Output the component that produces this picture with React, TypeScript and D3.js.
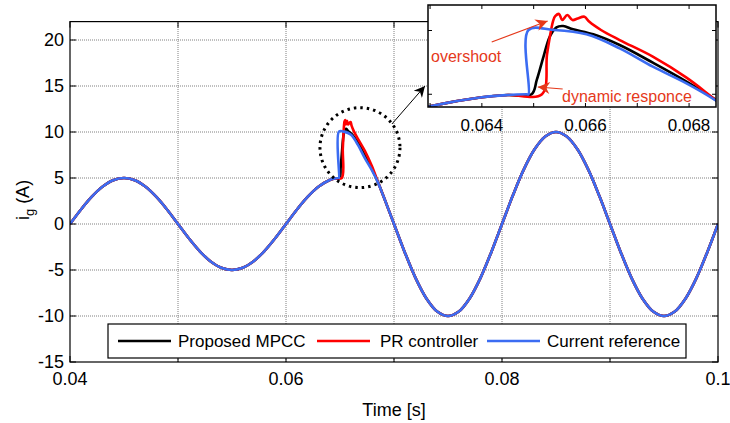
import React from 'react';
import * as d3 from 'd3';

// sampled grid current (A) before the amplitude step, shared by all three traces
const preTime = [0.040, 0.041, 0.042, 0.043, 0.044, 0.045, 0.046, 0.047, 0.048, 0.049,
  0.050, 0.051, 0.052, 0.053, 0.054, 0.055, 0.056, 0.057, 0.058, 0.059,
  0.060, 0.061, 0.062, 0.063, 0.064];
const preCurrent = [0, 1.55, 2.94, 4.05, 4.76, 5.0, 4.76, 4.05, 2.94, 1.55,
  0, -1.55, -2.94, -4.05, -4.76, -5.0, -4.76, -4.05, -2.94, -1.55,
  0, 1.55, 2.94, 4.05, 4.76];

// step region (what the zoomed inset shows), one array per trace
const stepTimeRef = [0.0645, 0.06486, 0.0649, 0.0649, 0.06538, 0.06602, 0.06666, 0.0673, 0.06795, 0.0685];
const stepRef = [4.94, 5.0, 5.0, 10.04, 10.04, 9.7, 8.6, 7.16, 5.85, 4.55];

const stepTimeMpcc = [0.0645, 0.06496, 0.06506, 0.06519, 0.06531, 0.06544, 0.06557, 0.06576, 0.06615, 0.06666, 0.0673, 0.06795, 0.0685];
const stepMpcc = [4.94, 5.0, 6.12, 7.95, 9.51, 10.25, 10.35, 10.09, 9.7, 8.86, 7.48, 6.0, 4.6];

const stepTimePr = [0.0645, 0.06516, 0.06526, 0.06538, 0.06542, 0.06549, 0.06555, 0.06565, 0.06575, 0.06585, 0.06598, 0.06607, 0.0663, 0.06666, 0.0673, 0.06795, 0.0685];
const stepPr = [4.94, 5.0, 8.2, 10.82, 11.14, 11.3, 10.82, 11.22, 10.82, 10.95, 11.08, 10.7, 10.04, 9.25, 7.95, 6.3, 4.6];

// after the step, shared again
const postTime = [0.069, 0.070, 0.071, 0.072, 0.073, 0.074, 0.075, 0.076, 0.077, 0.078,
  0.079, 0.080, 0.081, 0.082, 0.083, 0.084, 0.085, 0.086, 0.087, 0.088,
  0.089, 0.090, 0.091, 0.092, 0.093, 0.094, 0.095, 0.096, 0.097, 0.098,
  0.099, 0.100];
const postCurrent = [3.09, 0, -3.09, -5.88, -8.09, -9.51, -10, -9.51, -8.09, -5.88,
  -3.09, 0, 3.09, 5.88, 8.09, 9.51, 10, 9.51, 8.09, 5.88,
  3.09, 0, -3.09, -5.88, -8.09, -9.51, -10, -9.51, -8.09, -5.88,
  -3.09, 0];

const seriesNames = ['Proposed MPCC', 'PR controller', 'Current reference'];
const seriesColors = ['#000000', '#ff0000', '#3b6cf2'];

const xTicks = [0.04, 0.05, 0.06, 0.07, 0.08, 0.09, 0.1];
const xTickLabels = ['0.04', '', '0.06', '', '0.08', '', '0.1'];
const yTicks = [-15, -10, -5, 0, 5, 10, 15, 20];

const insetTicks = [0.063, 0.064, 0.065, 0.066, 0.067, 0.068];
const insetTickLabels = ['', '0.064', '', '0.066', '', '0.068'];
const insetYTicks = [5, 10];

const font = 'Arial, "Liberation Sans", Helvetica, sans-serif';
const noteColor = '#e5391b';

const join = (a: number[], b: number[]) => a.map((t, i) => [t, b[i]] as [number, number]);

export default function App() {
  const W = 730, H = 423;
  const x = d3.scaleLinear().domain([0.04, 0.1]).range([70, 718]);
  const y = d3.scaleLinear().domain([-15, 22]).range([362, 21.6]);

  const ix = d3.scaleLinear().domain([0.06296, 0.06852]).range([428, 716]);
  const iy = d3.scaleLinear().domain([4, 12]).range([107, 5]);

  const pre = join(preTime, preCurrent);
  const post = join(postTime, postCurrent);
  const series = [
    [...pre, ...join(stepTimeMpcc, stepMpcc), ...post],
    [...pre, ...join(stepTimePr, stepPr), ...post],
    [...pre, ...join(stepTimeRef, stepRef), ...post],
  ];

  const curve = d3.curveCatmullRom.alpha(0.5);
  const line = d3.line<[number, number]>().x(d => x(d[0])).y(d => y(d[1])).curve(curve);
  const iline = d3.line<[number, number]>().x(d => ix(d[0])).y(d => iy(d[1])).curve(curve);

  const [x0, x1] = x.range();
  const [y0, y1] = [y(-15), y(22)];
  const [ix0, ix1] = ix.range();
  const [iy0, iy1] = iy.range();

  // annotation anchors
  const circ = { cx: x(0.06685), cy: y(8.3), r: 40 };
  const zoomArrow = { x1: x(0.06981), y1: y(10.87), x2: x(0.07287), y2: y(15.0) };
  const overArrow = { x1: ix(0.06419), y1: iy(9.1), x2: ix(0.06527), y2: iy(10.75) };
  const dynArrow = { x1: ix(0.06556), y1: iy(5.41), x2: ix(0.06508), y2: iy(5.57) };

  const legend = { x: 108, y: 324, w: 578, h: 34 };
  const legendItems = [
    { lx: 118, tx: 178 },
    { lx: 317, tx: 380 },
    { lx: 487, tx: 547 },
  ];

  return (
    <svg width={W} height={H} style={{ position: 'absolute', left: 0, top: 0, background: '#fff' }} fontFamily={font}>
      <defs>
        <clipPath id="plotClip"><rect x={x0} y={y1} width={x1 - x0} height={y0 - y1} /></clipPath>
        <clipPath id="insetClip"><rect x={ix0} y={iy1} width={ix1 - ix0} height={iy0 - iy1} /></clipPath>
        <marker id="blackHead" viewBox="0 0 10 10" refX="10" refY="5" markerWidth="14" markerHeight="11"
          markerUnits="userSpaceOnUse" orient="auto">
          <path d="M0,0 L10,5 L0,10 L3,5 Z" fill="#000" />
        </marker>
        <marker id="redHead" viewBox="0 0 10 10" refX="10" refY="5" markerWidth="20" markerHeight="12"
          markerUnits="userSpaceOnUse" orient="auto">
          <path d="M0,0 L10,5 L0,10 L3,5 Z" fill={noteColor} />
        </marker>
      </defs>

      <rect x={0} y={0} width={W} height={H} fill="#fff" />

      {/* grid */}
      <g stroke="#808080" strokeWidth={1} strokeDasharray="1 1">
        {xTicks.slice(1, -1).map(t => (
          <line key={'gx' + t} x1={x(t)} x2={x(t)} y1={y0} y2={y1} />
        ))}
        {yTicks.slice(1).map(t => (
          <line key={'gy' + t} x1={x0} x2={x1} y1={y(t)} y2={y(t)} />
        ))}
      </g>

      {/* traces */}
      <g clipPath="url(#plotClip)" fill="none" strokeWidth={2.6} strokeLinejoin="round">
        {series.map((s, i) => (
          <path key={i} d={line(s) || ''} stroke={seriesColors[i]} />
        ))}
      </g>

      {/* axes box and ticks */}
      <rect x={x0} y={y1} width={x1 - x0} height={y0 - y1} fill="none" stroke="#000" strokeWidth={1.2} />
      <g stroke="#000" strokeWidth={1}>
        {xTicks.map(t => (
          <g key={'tx' + t}>
            <line x1={x(t)} x2={x(t)} y1={y0} y2={y0 - 6} />
            <line x1={x(t)} x2={x(t)} y1={y1} y2={y1 + 6} />
          </g>
        ))}
        {yTicks.map(t => (
          <g key={'ty' + t}>
            <line x1={x0} x2={x0 + 6} y1={y(t)} y2={y(t)} />
            <line x1={x1} x2={x1 - 6} y1={y(t)} y2={y(t)} />
          </g>
        ))}
      </g>
      <g fontSize={18} fill="#000">
        {xTicks.map((t, i) => (
          <text key={'lx' + t} x={x(t)} y={385} textAnchor="middle">{xTickLabels[i]}</text>
        ))}
        {yTicks.map(t => (
          <text key={'ly' + t} x={x0 - 6} y={y(t) + 6} textAnchor="end">{t}</text>
        ))}
        <text x={(x0 + x1) / 2} y={416} textAnchor="middle">Time [s]</text>
        <text transform={`translate(29,${200}) rotate(-90)`} textAnchor="middle">
          i<tspan fontSize={13} dy={5}>g</tspan><tspan dy={-5}> (A)</tspan>
        </text>
      </g>

      {/* legend */}
      <rect x={legend.x} y={legend.y} width={legend.w} height={legend.h} fill="#fff" stroke="#000" strokeWidth={1.2} />
      {seriesNames.map((n, i) => (
        <g key={n}>
          <line x1={legendItems[i].lx} x2={legendItems[i].lx + 53} y1={legend.y + 17} y2={legend.y + 17}
            stroke={seriesColors[i]} strokeWidth={2.6} />
          <text x={legendItems[i].tx} y={legend.y + 23} fontSize={17}>{n}</text>
        </g>
      ))}

      {/* zoom marker */}
      <circle cx={circ.cx} cy={circ.cy} r={circ.r} fill="none" stroke="#000" strokeWidth={3}
        strokeDasharray="2.5 4" />
      <line x1={zoomArrow.x1} y1={zoomArrow.y1} x2={zoomArrow.x2} y2={zoomArrow.y2}
        stroke="#000" strokeWidth={1} markerEnd="url(#blackHead)" />

      {/* inset */}
      <rect x={ix0} y={iy1} width={ix1 - ix0} height={iy0 - iy1} fill="#fff" />
      <g clipPath="url(#insetClip)" fill="none" strokeWidth={2.6} strokeLinejoin="round">
        {series.map((s, i) => (
          <path key={'i' + i} d={iline(s) || ''} stroke={seriesColors[i]} />
        ))}
      </g>
      <rect x={ix0} y={iy1} width={ix1 - ix0} height={iy0 - iy1} fill="none" stroke="#000" strokeWidth={1.5} />
      <g stroke="#000" strokeWidth={1}>
        {insetTicks.map(t => (
          <g key={'it' + t}>
            <line x1={ix(t)} x2={ix(t)} y1={iy0} y2={iy0 - 4} />
            <line x1={ix(t)} x2={ix(t)} y1={iy1} y2={iy1 + 4} />
          </g>
        ))}
        {insetYTicks.map(t => (
          <g key={'iy' + t}>
            <line x1={ix0} x2={ix0 + 4} y1={iy(t)} y2={iy(t)} />
            <line x1={ix1} x2={ix1 - 4} y1={iy(t)} y2={iy(t)} />
          </g>
        ))}
      </g>
      <g fontSize={17} fill="#000">
        {insetTicks.map((t, i) => (
          <text key={'il' + t} x={ix(t)} y={131} textAnchor="middle">{insetTickLabels[i]}</text>
        ))}
      </g>

      {/* callouts */}
      <line x1={overArrow.x1} y1={overArrow.y1} x2={overArrow.x2} y2={overArrow.y2}
        stroke={noteColor} strokeWidth={1.2} markerEnd="url(#redHead)" />
      <text x={ix0 + 3} y={62} fontSize={16} fill={noteColor}>overshoot</text>
      <line x1={dynArrow.x1} y1={dynArrow.y1} x2={dynArrow.x2} y2={dynArrow.y2}
        stroke={noteColor} strokeWidth={1.2} markerEnd="url(#redHead)" />
      <text x={562} y={102} fontSize={16} fill={noteColor}>dynamic responce</text>
    </svg>
  );
}
